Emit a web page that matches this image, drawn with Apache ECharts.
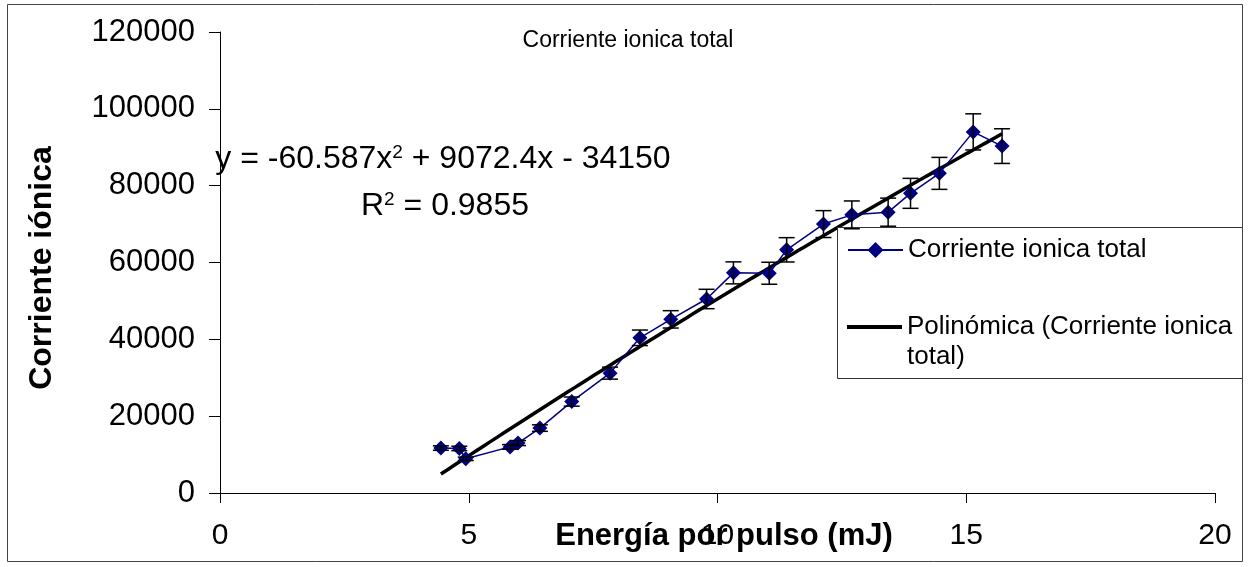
<!DOCTYPE html>
<html>
<head>
<meta charset="utf-8">
<script src="https://cdn.jsdelivr.net/npm/echarts@6/dist/echarts.min.js"></script>
<style>
  html, body { margin: 0; padding: 0; background: #fff; }
  #chart { width: 1248px; height: 567px; }
</style>
</head>
<body>
<div id="chart"></div>
<script>
// Pulse energy (mJ) for each measurement
const energy = [4.44, 4.81, 4.94, 5.83, 5.99, 6.43, 7.07, 7.84, 8.44, 9.06, 9.78,
                10.32, 11.04, 11.39, 12.13, 12.70, 13.43, 13.88, 14.46, 15.14, 15.72];
// Total ionic current measured at each energy
const current = [11700, 11600, 8900, 12000, 13000, 16900, 23800, 31200, 40400, 45200, 50500,
                 57300, 57200, 63300, 70000, 72400, 73100, 78000, 83200, 94000, 90300];
// Relative size of the error bars (5 %)
const errorFraction = 0.05;
// Second-order trendline: a*x^2 + b*x + c, and its R^2
const fitCoef = [-60.587, 9072.4, -34150];
const fitR2 = 0.9855;
// Axis ranges and tick steps
const xRange = [0, 20];
const xStep = 5;
const yRange = [0, 120000];
const yStep = 20000;

const SERIES_NAME = 'Corriente ionica total';
const FIT_NAME = 'Polinómica (Corriente ionica total)';
const FONT = '"Liberation Sans", Arial, Helvetica, sans-serif';

// Trendline sampled across the measured energy range
const fitPoints = [];
{
  const x0 = energy[0], x1 = energy[energy.length - 1], n = 80;
  for (let i = 0; i <= n; i++) {
    const x = x0 + (x1 - x0) * i / n;
    fitPoints.push([x, fitCoef[0] * x * x + fitCoef[1] * x + fitCoef[2]]);
  }
}

const pointData = energy.map((x, i) => [x, current[i]]);
const errData = energy.map((x, i) => [x, current[i], current[i] * errorFraction]);

const eqLine = 'y = ' + fitCoef[0] + 'x{sup|2} + ' + fitCoef[1] + 'x ' +
  (fitCoef[2] < 0 ? '- ' : '+ ') + Math.abs(fitCoef[2]);
const r2Line = 'R{sup|2} = ' + fitR2;

const chart = echarts.init(document.getElementById('chart'), null, { renderer: 'canvas' });

chart.setOption({
  animation: false,
  backgroundColor: '#fff',
  title: {
    text: SERIES_NAME,
    left: 628,
    top: 29,
    padding: 0,
    textAlign: 'center',
    textStyle: { fontFamily: FONT, fontSize: 23, fontWeight: 'normal', color: '#000' }
  },
  grid: { left: 220, right: 33, top: 32, bottom: 74, containLabel: false, outerBoundsMode: 'none' },
  xAxis: {
    type: 'value',
    min: xRange[0], max: xRange[1], interval: xStep,
    name: 'Energía por pulso (mJ)',
    nameLocation: 'middle',
    nameGap: 28,
    nameMoveOverlap: false,
    nameTextStyle: { fontFamily: FONT, fontSize: 31, fontWeight: 'bold', color: '#000', padding: [0, 0, 0, 13] },
    axisLine: { onZero: false, lineStyle: { color: '#000', width: 1 } },
    axisTick: { show: true, inside: false, length: 10, lineStyle: { color: '#000' } },
    axisLabel: { fontFamily: FONT, fontSize: 30, color: '#000', margin: 28 },
    splitLine: { show: false }
  },
  yAxis: {
    type: 'value',
    min: yRange[0], max: yRange[1], interval: yStep,
    name: 'Corriente iónica',
    nameLocation: 'middle',
    nameGap: 162,
    nameMoveOverlap: false,
    nameTextStyle: { fontFamily: FONT, fontSize: 32, fontWeight: 'bold', color: '#000', padding: [0, 11, 0, 0] },
    axisLine: { show: true, lineStyle: { color: '#000', width: 1 } },
    axisTick: { show: true, inside: false, length: 11, lineStyle: { color: '#000' } },
    axisLabel: { fontFamily: FONT, fontSize: 31, color: '#000', margin: 25, formatter: v => String(v) },
    splitLine: { show: false }
  },
  legend: [
    {
      data: [SERIES_NAME],
      left: 847, top: 235, padding: 0,
      itemWidth: 55, itemHeight: 20,
      selectedMode: false,
      textStyle: { fontFamily: FONT, fontSize: 26, color: '#000', lineHeight: 30 }
    },
    {
      data: [{ name: FIT_NAME, icon: 'rect' }],
      left: 847, top: 282, padding: 0,
      itemWidth: 55, itemHeight: 4,
      selectedMode: false,
      formatter: () => '\nPolinómica (Corriente ionica\ntotal)',
      textStyle: { fontFamily: FONT, fontSize: 26, color: '#000', lineHeight: 30 }
    }
  ],
  graphic: [
    {
      type: 'rect', z: 100, silent: true,
      shape: { x: 7.5, y: 4.5, width: 1235, height: 557 },
      style: { fill: 'none', stroke: '#444', lineWidth: 1 }
    },
    {
      type: 'rect', z: 3, silent: true,
      shape: { x: 837.5, y: 227.5, width: 405, height: 151 },
      style: { fill: '#fff', stroke: '#333', lineWidth: 1 }
    },
    {
      type: 'text', z: 3, silent: true,
      style: {
        x: 443, y: 159, text: eqLine,
        align: 'center', verticalAlign: 'middle',
        fontFamily: FONT, fontSize: 32, fill: '#000',
        rich: { sup: { fontSize: 19, verticalAlign: 'top', fontFamily: FONT, fill: '#000' } }
      }
    },
    {
      type: 'text', z: 3, silent: true,
      style: {
        x: 445, y: 206, text: r2Line,
        align: 'center', verticalAlign: 'middle',
        fontFamily: FONT, fontSize: 32, fill: '#000',
        rich: { sup: { fontSize: 19, verticalAlign: 'top', fontFamily: FONT, fill: '#000' } }
      }
    }
  ],
  series: [
    {
      name: FIT_NAME,
      type: 'line',
      data: fitPoints,
      showSymbol: false,
      symbol: 'none',
      smooth: false,
      z: 2,
      lineStyle: { color: '#000', width: 3.5 },
      itemStyle: { color: '#000' }
    },
    {
      name: SERIES_NAME,
      type: 'line',
      data: pointData,
      symbol: 'diamond',
      symbolSize: 15,
      z: 3,
      lineStyle: { color: '#000080', width: 1.5 },
      itemStyle: { color: '#000080' }
    },
    {
      name: 'error',
      type: 'custom',
      silent: true,
      z: 4,
      data: errData,
      encode: { x: 0, y: 1 },
      renderItem(params, api) {
        const x = api.value(0), y = api.value(1), e = api.value(2);
        const top = api.coord([x, y + e]);
        const bot = api.coord([x, y - e]);
        const half = 8;
        const st = { stroke: '#000', lineWidth: 1.5 };
        return {
          type: 'group',
          children: [
            { type: 'line', shape: { x1: top[0], y1: top[1], x2: bot[0], y2: bot[1] }, style: st },
            { type: 'line', shape: { x1: top[0] - half, y1: top[1], x2: top[0] + half, y2: top[1] }, style: st },
            { type: 'line', shape: { x1: bot[0] - half, y1: bot[1], x2: bot[0] + half, y2: bot[1] }, style: st }
          ]
        };
      }
    }
  ]
});
</script>
</body>
</html>
